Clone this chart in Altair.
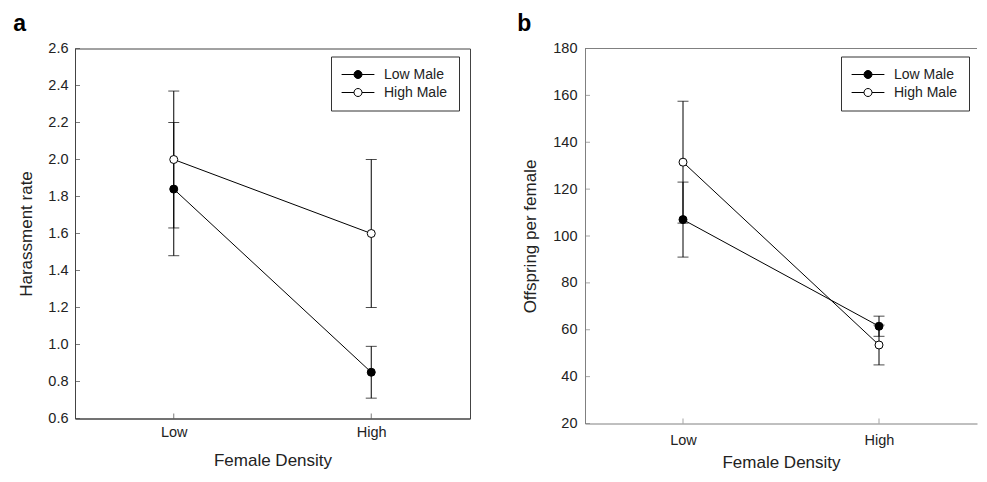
import altair as alt
import pandas as pd

FONT = "Liberation Sans"

density = ["Low", "High"]
series_names = ["Low Male", "High Male"]

# Panel a: harassment rate (mean, half error bar)
harass_low_male = [1.84, 0.85]
harass_low_male_se = [0.36, 0.14]
harass_high_male = [2.00, 1.60]
harass_high_male_se = [0.37, 0.40]

# Panel b: offspring per female
off_low_male = [107.0, 61.5]
off_low_male_se = [16.0, 4.3]
off_high_male = [131.5, 53.5]
off_high_male_se = [26.0, 8.5]

harass_ticks = [0.6, 0.8, 1.0, 1.2, 1.4, 1.6, 1.8, 2.0, 2.2, 2.4, 2.6]
off_ticks = [20, 40, 60, 80, 100, 120, 140, 160, 180]

SYMBOL = "M-4.1,0L-1,0M1,0L4.1,0M1,0A1,1,0,1,1,-1,0A1,1,0,1,1,1,0Z"


def make_frame(lm, lmse, hm, hmse):
    rows = []
    for s, vals, ses in ((series_names[0], lm, lmse), (series_names[1], hm, hmse)):
        for d, v, e in zip(density, vals, ses):
            rows.append(dict(density=d, series=s, value=v, lo=v - e, hi=v + e))
    return pd.DataFrame(rows)


def panel(df, ytitle, ydomain, yticks, yfmt, W, H, letter, frame_color,
          xlabpad, xtitlepad, ylabpad, ytitlepad, boxed):
    xscale = alt.Scale(type="point", domain=density, padding=0.5)
    yscale = alt.Scale(domain=ydomain, nice=False, zero=False)
    base = alt.Chart(df)

    x_axis = alt.Axis(title="Female Density", labelAngle=0, ticks=False, tickSize=0,
                      labelPadding=xlabpad, titlePadding=xtitlepad,
                      domainColor=frame_color, grid=False)
    y_axis = alt.Axis(title=ytitle, values=yticks, format=yfmt, ticks=False, tickSize=0,
                      labelPadding=ylabpad, titlePadding=ytitlepad,
                      domainColor=frame_color, grid=False)

    xe = alt.X("density:N", scale=xscale, axis=None)

    line = base.mark_line(color="black", strokeWidth=1).encode(
        x=alt.X("density:N", scale=xscale, axis=x_axis),
        y=alt.Y("value:Q", scale=yscale, axis=y_axis),
        detail="series:N",
    )
    bars = base.mark_rule(color="black", strokeWidth=1).encode(
        x=xe, y=alt.Y("lo:Q", scale=yscale, axis=None), y2="hi:Q"
    )
    cap_lo = base.mark_tick(color="black", size=11, thickness=1).encode(
        x=xe, y=alt.Y("lo:Q", scale=yscale, axis=None)
    )
    cap_hi = base.mark_tick(color="black", size=11, thickness=1).encode(
        x=xe, y=alt.Y("hi:Q", scale=yscale, axis=None)
    )
    pts = base.mark_point(filled=True, size=64, stroke="black", strokeWidth=1, opacity=1).encode(
        x=xe,
        y=alt.Y("value:Q", scale=yscale, axis=None),
        fill=alt.Fill(
            "series:N",
            scale=alt.Scale(domain=series_names, range=["black", "white"]),
            legend=alt.Legend(
                title=None, orient="none", legendX=256, legendY=8,
                symbolType=SYMBOL, symbolSize=64, symbolStrokeColor="black",
                symbolStrokeWidth=1, symbolOffset=9, labelOffset=19,
                labelFont=FONT, labelFontSize=14, labelColor="#222",
                strokeColor="#333", padding=11, rowPadding=4, fillColor="white",
            ),
        ),
    )
    # inward-pointing tick marks along the left and bottom axes
    ytick_marks = alt.Chart(pd.DataFrame({"tick": yticks})).mark_tick(
        orient="horizontal", size=5, thickness=1, color=frame_color
    ).encode(y=alt.Y("tick:Q", scale=yscale, axis=None), x=alt.value(2.5))
    xtick_marks = alt.Chart(pd.DataFrame({"density": density})).mark_tick(
        orient="vertical", size=5, thickness=1, color=frame_color
    ).encode(x=alt.X("density:N", scale=xscale, axis=None), y=alt.value(H - 2.5))

    layers = [line, bars, cap_lo, cap_hi, pts, ytick_marks, xtick_marks]
    if not boxed:
        top = alt.Chart(pd.DataFrame({"k": [0]})).mark_rule(color=frame_color, strokeWidth=1).encode(
            x=alt.value(0), x2=alt.value(W), y=alt.value(0)
        )
        layers.append(top)
    ch = alt.layer(*layers).resolve_axis(x="independent", y="independent").properties(
        width=W, height=H,
        title=alt.Title(letter, anchor="start", frame="bounds", fontSize=23,
                        fontWeight="bold", font=FONT, color="black", offset=5, dx=-4.5),
    )
    if boxed:
        ch = ch.properties(view=alt.ViewBackground(stroke=frame_color, strokeWidth=1))
    return ch


df_a = make_frame(harass_low_male, harass_low_male_se, harass_high_male, harass_high_male_se)
df_b = make_frame(off_low_male, off_low_male_se, off_high_male, off_high_male_se)

pa = panel(df_a, "Harassment rate", [0.6, 2.6], harass_ticks, ".1f", 395, 370, "a", "#444",
           7, 13, 7, 12, True)
pb = panel(df_b, "Offspring per female", [20, 180], off_ticks, "d", 392, 375, "b", "#808080",
           10, 7, 8, 13, False)

chart = (
    alt.hconcat(pa, pb, spacing=46)
    .resolve_scale(fill="independent")
    .resolve_legend(fill="independent")
    .properties(padding={"left": 4, "top": 3.5, "right": 0, "bottom": 0})
    .configure_view(stroke=None)
    .configure_axis(labelFont=FONT, titleFont=FONT, labelFontSize=14.5, titleFontSize=17,
                    labelColor="#222", titleColor="#222", titleFontWeight="normal")
)

chart.save("out.html", embed_options={"renderer": "svg", "actions": False})
